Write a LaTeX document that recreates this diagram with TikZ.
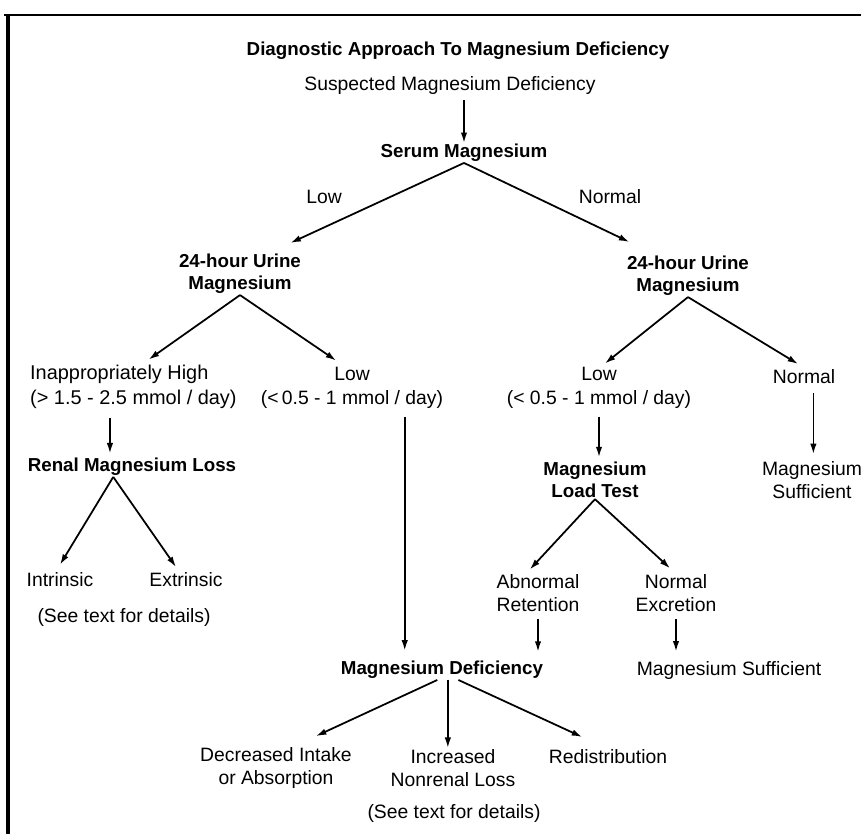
\documentclass[tikz,border=0pt]{standalone}
\usepackage{fontspec}
\setmainfont{Liberation Sans}
\usetikzlibrary{arrows.meta}
\begin{document}
\begin{tikzpicture}[x=0.03cm,y=-0.03cm]
  \tikzset{ lbl/.style={font=\fontsize{16.5}{20}\selectfont,inner sep=1pt,outer sep=0pt,align=center},
    hdr/.style={lbl,font=\bfseries\fontsize{16}{19}\selectfont},
    arr/.style={-{Latex[length=9pt,width=5.5pt]},line width=1.5pt},
  }
  \useasboundingbox (0,0) rectangle (861,834);
  \draw[line width=2.5pt] (4,15) -- (861,15);
  \draw[line width=3pt] (8,14) -- (8,834);

  \node[hdr] (title) at (458,51)  {Diagnostic Approach To Magnesium Deficiency};
  \node[lbl] (susp)  at (450,85)  {Suspected Magnesium Deficiency};
  \node[hdr] (serum) at (464,153) {Serum Magnesium};
  \node[lbl] (lowlbl)  at (324,197) {Low};
  \node[lbl] (normlbl) at (610,197) {Normal};
  \node[hdr] (urineL) at (240,274) {24-hour Urine\\Magnesium};
  \node[hdr] (urineR) at (688,276) {24-hour Urine\\Magnesium};

  \node[lbl,font=\fontsize{17}{21}\selectfont,align=left,anchor=west] (highL) at (29,387)
    {Inappropriately High\\(> 1.5 - 2.5 mmol / day)};
  \node[lbl] (lowL)  at (352,388) {Low\\(<\,0.5 - 1 mmol / day)};
  \node[lbl] (lowR)  at (599,388) {Low\\(< 0.5 - 1 mmol / day)};
  \node[lbl] (normR) at (804,377) {Normal};

  \node[hdr] (renal) at (132,467) {Renal Magnesium Loss};
  \node[hdr] (load)  at (595,480) {Magnesium\\Load Test};
  \node[lbl] (suffR) at (812,480) {Magnesium\\Sufficient};
  \node[lbl] (intr)  at (60,580)  {Intrinsic};
  \node[lbl] (extr)  at (186,580) {Extrinsic};
  \node[lbl] (seeL)  at (124,617) {(See text for details)};
  \node[lbl] (abn)   at (538,593) {Abnormal\\Retention};
  \node[lbl] (exc)   at (676,593) {Normal\\Excretion};

  \node[hdr] (defic) at (442,670) {Magnesium Deficiency};
  \node[lbl] (suff)  at (729,670) {Magnesium Sufficient};
  \node[lbl] (decr)  at (276,768) {Decreased Intake\\or Absorption};
  \node[lbl] (incr)  at (453,768) {Increased\\Nonrenal Loss};
  \node[lbl] (redis) at (608,757) {Redistribution};
  \node[lbl] (seeB)  at (454,813) {(See text for details)};

  \draw[arr,shorten <=4pt] (susp.south -| serum.north) -- (serum.north);
  \draw[arr] (serum.south) -- ([xshift=43pt,yshift=8.5pt]urineL.north);
  \draw[arr] (serum.south) -- ([xshift=-50pt,yshift=11pt]urineR.north);

  \draw[arr] (urineL.south) -- ([xshift=13pt,yshift=4pt]highL.north);
  \draw[arr] (urineL.south) -- ([xshift=-13.5pt,yshift=5pt]lowL.north);
  \draw[arr] (urineR.south) -- ([xshift=5pt,yshift=2.5pt]lowR.north);
  \draw[arr] (urineR.south) -- ([xshift=-5pt,yshift=4pt]normR.north);

  \draw[arr,shorten <=7pt,shorten >=3pt] ([xshift=-20pt]highL.south) -- ([xshift=-20pt]highL.south |- renal.north);
  \draw[arr,shorten <=6pt,shorten >=8pt] ([xshift=45pt]lowL.south) -- ([xshift=45pt]lowL.south |- defic.north);
  \draw[arr,shorten <=6pt,shorten >=3pt] (lowR.south) -- (lowR.south |- load.north);
  \draw[arr,shorten <=7pt,shorten >=5pt] ([xshift=8pt]normR.south) -- ([xshift=8pt]normR.south |- suffR.north);

  \draw[arr] ([xshift=-16pt]renal.south) -- ([yshift=6pt]intr.north);
  \draw[arr] ([xshift=-16pt]renal.south) -- ([xshift=-8.5pt,yshift=4pt]extr.north);

  \draw[arr] (load.south) -- ([xshift=-7pt,yshift=3pt]abn.north);
  \draw[arr] (load.south) -- ([xshift=-5pt,yshift=4pt]exc.north);
  \draw[arr,shorten <=5pt,shorten >=7pt] (abn.south) -- (abn.south |- defic.north);
  \draw[arr,shorten <=5pt,shorten >=7pt] (exc.south) -- (exc.south |- suff.north);

  \draw[arr] ([xshift=-4pt]defic.south) -- ([xshift=34pt,yshift=8.5pt]decr.north);
  \draw[arr] ([xshift=5pt]defic.south) -- ([xshift=5pt]defic.south |- incr.north);
  \draw[arr] ([xshift=14pt]defic.south) -- ([xshift=-22pt,yshift=10pt]redis.north);

\end{tikzpicture}
\end{document}
